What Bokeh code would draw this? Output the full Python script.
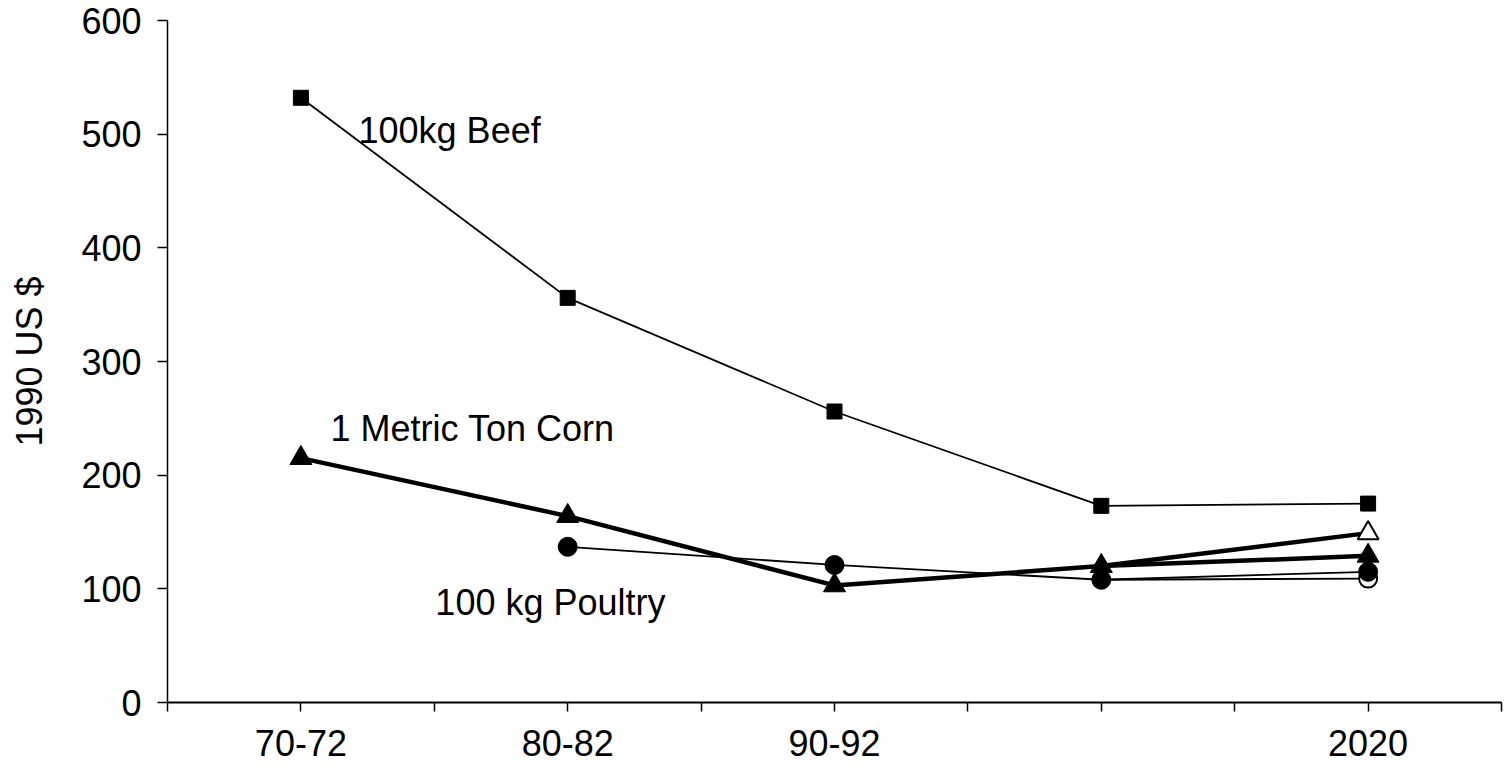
from bokeh.plotting import figure
from bokeh.models import FixedTicker, Label, Range1d
from bokeh.embed import file_html
from bokeh.resources import INLINE

# ---- data ----
periods = ["70-72", "80-82", "90-92", "", "2020"]
beef_values = [532, 356, 256, 173, 175]
corn_values = [215, 164, 103, 120, 129]
corn_alt_2020 = 149
poultry_values = [None, 137, 121, 108, 115]
poultry_alt_2020 = 109
y_ticks = [0, 100, 200, 300, 400, 500, 600]

FONT = "Liberation Sans"
FS = "36px"

xs = [i + 0.5 for i in range(len(periods))]
bounds = [float(i) for i in range(len(periods) + 1)]

p = figure(width=1504, height=771, output_backend="svg", toolbar_location=None,
           x_range=Range1d(0, len(periods)), y_range=Range1d(0, 600),
           min_border_left=167, min_border_right=3, min_border_top=20,
           min_border_bottom=69, background_fill_color="white",
           border_fill_color="white")
p.outline_line_color = None
p.xgrid.visible = False
p.ygrid.visible = False

# x axis
xa = p.xaxis[0]
xa.ticker = FixedTicker(ticks=xs, minor_ticks=bounds)
xa.major_label_overrides = {x: lab for x, lab in zip(xs, periods)}
xa.major_tick_in = 0
xa.major_tick_out = 9
xa.minor_tick_in = 0
xa.minor_tick_out = 9
xa.axis_line_width = 2
xa.major_tick_line_width = 1.5
xa.minor_tick_line_width = 1.5
xa.major_label_standoff = 18
xa.major_label_text_font = FONT
xa.major_label_text_font_size = FS
xa.major_label_text_color = "black"
xa.axis_line_color = "black"

# y axis
ya = p.yaxis[0]
ya.ticker = FixedTicker(ticks=y_ticks, minor_ticks=[])
ya.major_tick_in = 0
ya.major_tick_out = 10
ya.minor_tick_out = 0
ya.axis_line_width = 1.5
ya.major_tick_line_width = 1.5
ya.major_label_standoff = 16
ya.major_label_text_font = FONT
ya.major_label_text_font_size = FS
ya.major_label_text_color = "black"
ya.axis_label = "1990 US $"
ya.axis_label_text_font = FONT
ya.axis_label_text_font_size = FS
ya.axis_label_text_font_style = "normal"
ya.axis_label_text_color = "black"
ya.axis_label_standoff = 28

# lines
p.line(xs, beef_values, line_color="black", line_width=1.8)
p.line(xs[1:], poultry_values[1:], line_color="black", line_width=1.8)
p.line(xs[3:], [poultry_values[3], poultry_alt_2020], line_color="black", line_width=1.8)
p.line(xs, corn_values, line_color="black", line_width=4.5)
p.line(xs[3:], [corn_values[3], corn_alt_2020], line_color="black", line_width=4.5)

# markers
p.scatter([xs[4]], [poultry_alt_2020], marker="circle", size=18,
          fill_color="white", line_color="black", line_width=2)
p.scatter(xs[1:], poultry_values[1:], marker="circle", size=19,
          fill_color="black", line_color="black")
p.scatter(xs, beef_values, marker="square", size=15,
          fill_color="black", line_color="black")
p.scatter([xs[4]], [corn_alt_2020], marker="triangle", size=21,
          fill_color="white", line_color="black", line_width=2)
p.scatter(xs, corn_values, marker="triangle", size=22,
          fill_color="black", line_color="black")

# series labels
for tx, ty, txt in [(0.716, 503, "100kg Beef"),
                    (0.611, 241, "1 Metric Ton Corn"),
                    (1.004, 88, "100 kg Poultry")]:
    p.add_layout(Label(x=tx, y=ty, text=txt, text_baseline="middle",
                       text_align="left", text_font=FONT, text_font_size=FS,
                       text_color="black"))

open("out.html", "w").write(file_html(p, INLINE))
